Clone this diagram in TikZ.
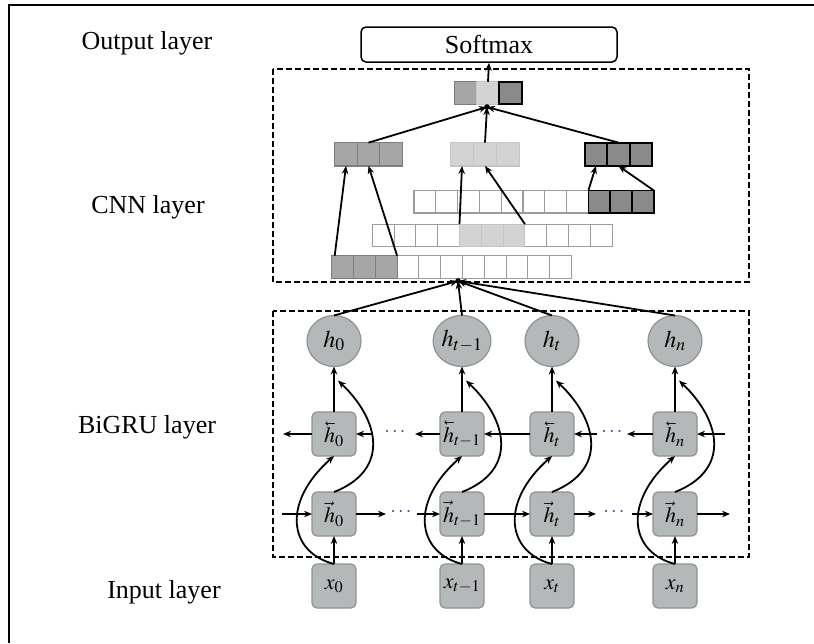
\documentclass[tikz,border=0pt]{standalone}
\usepackage{graphicx}
\usepackage{mathptmx}
\usepackage[no-math]{fontspec}
\setmainfont{Liberation Serif}
\usetikzlibrary{arrows.meta,shapes.geometric,calc}
\newcommand{\lvecx}[1]{\reflectbox{$\vec{\reflectbox{$#1$}}$}}
\definecolor{boxfill}{HTML}{B4B8B8}
\definecolor{boxdraw}{HTML}{8E9292}
\definecolor{cmed}{HTML}{A6A6A6}
\definecolor{clight}{HTML}{D3D3D3}
\definecolor{cdark}{HTML}{8A8A8A}
\definecolor{cline}{HTML}{9C9C9C}
\definecolor{dotcol}{HTML}{3A4A7A}
\tikzset{
  lab/.style={font=\fontsize{26}{30}\selectfont, inner sep=0pt},
  dbox/.style={line width=1.9pt, dash pattern=on 6pt off 3pt},
  conn/.style={line width=1.8pt, -{Stealth[length=8pt,width=6.5pt]}},
  gbox/.style={draw=boxdraw, fill=boxfill, line width=1.2pt, rounded corners=5pt,
    minimum width=44pt, minimum height=44pt, inner sep=0pt, outer sep=0pt,
    font=\fontsize{22}{26}\selectfont},
  hcirc/.style={ellipse, draw=boxdraw, fill=boxfill, line width=1.2pt,
    minimum width=54pt, minimum height=51pt, inner sep=0pt, outer sep=0pt,
    font=\fontsize{24}{28}\selectfont},
  cellbase/.style={minimum width=21.8pt, minimum height=22.5pt, inner sep=0pt, outer sep=0pt},
  wcell/.style={cellbase, draw=cline, fill=white, line width=1.1pt},
  mcell/.style={cellbase, draw=cline!80!black, fill=cmed, line width=1.1pt},
  lcell/.style={cellbase, draw=cline!60, fill=clight, line width=1.1pt},
  dcell/.style={cellbase, draw=black, fill=cdark, line width=1.8pt},
  dotsnode/.style={text=dotcol, inner sep=0pt, font=\fontsize{20}{24}\selectfont},
}
\begin{document}
\begin{tikzpicture}[x=1pt,y=-1pt]
\useasboundingbox (0,0) rectangle (814,643);
\draw[line width=1.4pt] (9,643) -- (9,5) -- (814,5);

% layer labels
\node[lab] (lOut) at (147,43) {Output layer};
\node[lab] (lCNN) at (148,207) {CNN layer};
\node[lab] (lGRU) at (147,427) {BiGRU layer};
\node[lab] (lIn)  at (164,592) {Input layer};

% softmax
\node[draw, rounded corners=5pt, line width=1.5pt, minimum width=256pt,
  minimum height=35pt, inner sep=0pt, font=\fontsize{26}{30}\selectfont] (soft) at (489,44.5) {Softmax};

% dashed regions
\draw[dbox] (273,69) rectangle (749,282);
\draw[dbox] (273,311) rectangle (749,557);

% top pooled vector
\node[mcell, minimum width=22.5pt] (T1) at (465.5,93) {};
\node[lcell, minimum width=22.5pt] (T2) at (488,93) {};
\node[dcell, minimum width=22.5pt] (T3) at (510.5,93) {};

% second-level vectors
\foreach \i/\x in {1/346,2/368.5,3/391} \node[mcell, minimum width=22.5pt, minimum height=23.3pt] (L\i) at (\x,154.3) {};
\foreach \i/\x in {1/462,2/485,3/508} \node[lcell, minimum width=22.5pt, minimum height=23.3pt] (M\i) at (\x,154.3) {};
\foreach \i/\x in {1/596,2/618.5,3/641} \node[dcell, minimum width=22.5pt, minimum height=23.3pt] (R\i) at (\x,154.3) {};

% feature rows
\foreach \i in {1,...,8} \node[wcell] (A\i) at ({424.9+21.8*(\i-1)},201.7) {};
\foreach \i in {9,10,11} \node[dcell] (A\i) at ({424.9+21.8*(\i-1)},201.7) {};
\foreach \i in {1,2,3,4,8,9,10,11} \node[wcell] (B\i) at ({383.2+21.8*(\i-1)},235.3) {};
\foreach \i in {5,6,7} \node[lcell] (B\i) at ({383.2+21.8*(\i-1)},235.3) {};
\foreach \i in {4,...,11} \node[wcell] (C\i) at ({342.6+21.8*(\i-1)},267) {};
\foreach \i in {1,2,3} \node[mcell] (C\i) at ({342.6+21.8*(\i-1)},267) {};

% CNN connectors
\draw[conn] ([xshift=3pt]C1.north west) -- (L1.south);
\draw[conn] (C3.north east) -- (L2.south);
\draw[conn] (B5.north west) -- (M1.south);
\draw[conn] (B7.north east) -- (M2.south);
\draw[conn] (A9.north west) -- (R1.south);
\draw[conn] (A11.north east) -- (R2.south);

\coordinate (J1) at (487,107);
\draw[conn] (L2.north) -- (J1);
\draw[conn] (M2.north) -- (J1);
\draw[conn] (R2.north) -- (J1);
\fill (J1) circle (2.8pt);
\draw[conn] (T2.north) -- (soft.south);

% BiGRU
\foreach \k/\x/\lbl in {0/334/0, 1/462/{t-1}, 2/552/t, 3/675/n}{
  \node[hcirc] (h\k) at (\x,341) {$h_{\lbl}$};
  \node[gbox] (b\k) at (\x,434) {$\lvecx{h}_{\lbl}$};
  \node[gbox] (f\k) at (\x,514) {$\vec{h}_{\lbl}$};
  \node[gbox] (x\k) at (\x,586) {$x_{\lbl}$};
}

\coordinate (J2) at (458,281);
\foreach \k in {0,1,2,3}{
  \draw[conn] (h\k.north) -- (J2);
  \draw[conn] (x\k.north) -- (f\k.south);
  \draw[conn] (b\k.north) -- (h\k.south);
  \draw[conn] (x\k.north) .. controls +(-46,-12) and +(-52,46) .. (b\k.south);
  \draw[conn] (f\k.north) .. controls +(56,-22) and +(42,40) .. ([xshift=4pt,yshift=-14pt]h\k.south);
}
\fill (J2) circle (2.8pt);

% forward row
\coordinate (fin) at (282,514);
\coordinate (f01a) at (386,514);
\coordinate (f01b) at (417,514);
\coordinate (f23a) at (596,514);
\coordinate (f23b) at (632,514);
\coordinate (fout) at (730,514);
\draw[conn] (fin) -- (f0.west);
\draw[conn] (f0.east) -- (f01a);
\node[dotsnode] (fd1) at (401,512) {$\cdots$};
\draw[conn] (f01b) -- (f1.west);
\draw[conn] (f1.east) -- (f2.west);
\draw[conn] (f2.east) -- (f23a);
\node[dotsnode] (fd2) at (614,512) {$\cdots$};
\draw[conn] (f23b) -- (f3.west);
\draw[conn] (f3.east) -- (fout);

% backward row
\coordinate (bin) at (725,434);
\coordinate (b23b) at (627,434);
\coordinate (b23a) at (597,434);
\coordinate (b01b) at (415,434);
\coordinate (b01a) at (372,434);
\coordinate (bout) at (283,434);
\draw[conn] (bin) -- (b3.east);
\draw[conn] (b3.west) -- (b23b);
\node[dotsnode] (bd2) at (612,432) {$\cdots$};
\draw[conn] (b23a) -- (b2.east);
\draw[conn] (b2.west) -- (b1.east);
\draw[conn] (b1.west) -- (b01b);
\node[dotsnode] (bd1) at (395,432) {$\cdots$};
\draw[conn] (b01a) -- (b0.east);
\draw[conn] (b0.west) -- (bout);
\end{tikzpicture}
\end{document}
